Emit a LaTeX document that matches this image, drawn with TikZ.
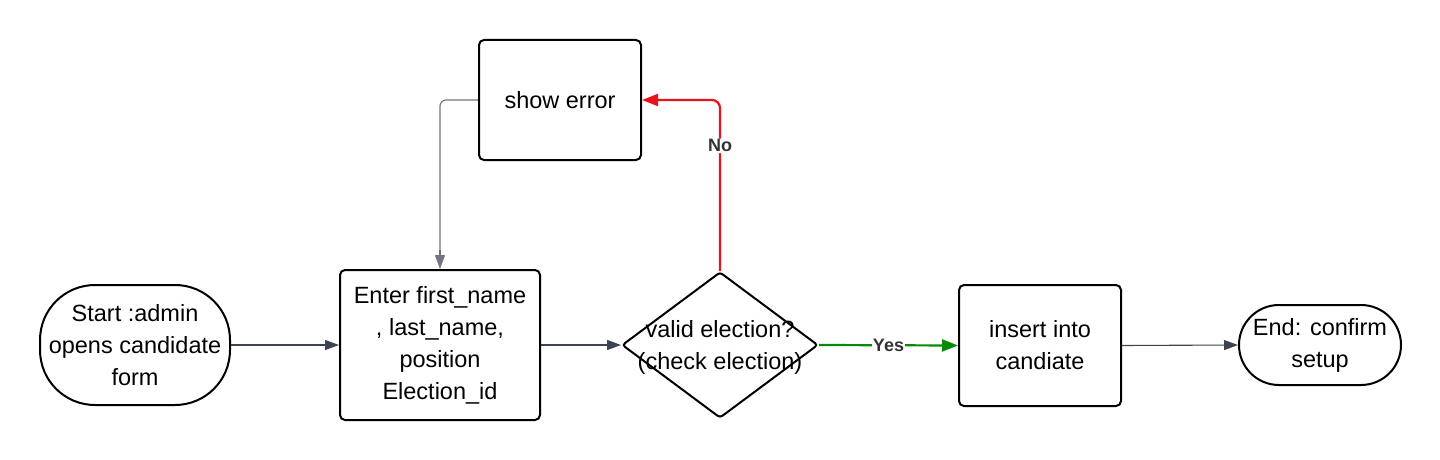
\documentclass[tikz,border=0pt]{standalone}
\usepackage{fontspec}
\setmainfont{Liberation Sans}
\usetikzlibrary{arrows.meta,shapes.geometric}
\definecolor{arrowgray}{HTML}{3D4350}
\definecolor{linegray}{HTML}{707580}
\definecolor{nored}{HTML}{E8141B}
\definecolor{yesgreen}{HTML}{078A07}
\definecolor{labelgray}{HTML}{333333}
\tikzset{
  boxnode/.style={draw=black, line width=2pt, rounded corners=5pt, align=center, inner sep=0pt,
    font=\fontsize{23.5}{32}\selectfont},
  termnode/.style={boxnode, rounded corners=#1},
  decnode/.style={draw=black, line width=2pt, shape=diamond, rounded corners=3pt, inner sep=0pt},
  flow/.style={draw=arrowgray, line width=1.1pt, -{Triangle[length=14pt,width=10pt]}},
  lbl/.style={font=\fontsize{18}{20}\selectfont\bfseries, text=labelgray, fill=white, inner sep=1pt}
}
\begin{document}
\begin{tikzpicture}[x=1pt,y=-1pt]
\useasboundingbox[fill=white] (0,0) rectangle (1440,460);
\node[termnode=55pt, minimum width=190pt, minimum height=120pt] (start) at (135,345)
  {Start :admin\\opens candidate\\form};
\node[boxnode, minimum width=200pt, minimum height=150pt] (enter) at (440,345)
  {Enter first\_name\\, last\_name,\\position\\Election\_id};
\node[decnode, minimum width=196pt, minimum height=146pt] (dec) at (720,345) {};
\node[align=center, font=\fontsize{23.5}{32}\selectfont, inner sep=0pt] (dectext) at (720,347)
  {valid election?\\(check election)};
\node[boxnode, minimum width=162pt, minimum height=120pt] (err) at (560,100) {show error};
\node[boxnode, minimum width=162pt, minimum height=121pt] (ins) at (1040,345.5) {insert into\\candiate};
\node[termnode=40pt, minimum width=162pt, minimum height=80pt] (end) at (1320,345) {End: confirm\\setup};

\draw[flow] (start.east) -- (enter.west);
\draw[flow] (enter.east) -- (dec.west);
\draw[flow, draw=yesgreen, line width=2.2pt, -{Triangle[length=16pt,width=12pt]}] (dec.east) -- node[lbl]{Yes} (ins.west);
\draw[flow] (ins.east) -- (end.west);
\draw[flow, draw=nored, line width=2.2pt, rounded corners=8pt, -{Triangle[length=16pt,width=12pt]}] (dec.north) |- (err.east)
  node[lbl, pos=0.366] {No};
\draw[draw=linegray, line width=1.1pt, rounded corners=6pt] (err.west) -| (440,255);
\draw[flow, draw=linegray] (440,250) -- (enter.north);
\end{tikzpicture}
\end{document}
